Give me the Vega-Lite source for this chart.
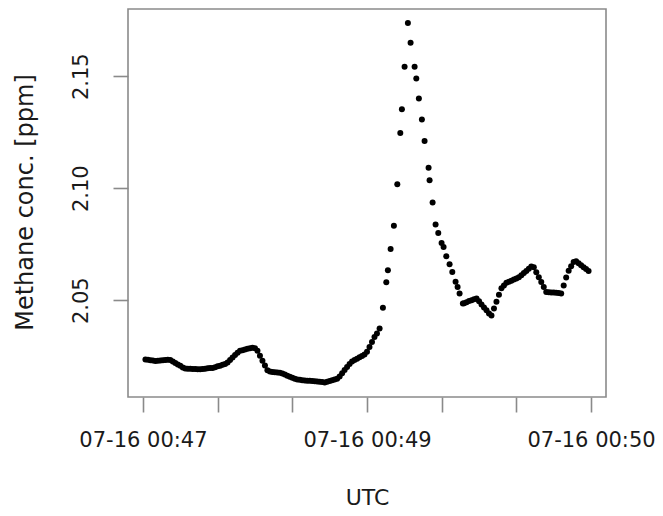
{
  "$schema": "https://vega.github.io/schema/vega-lite/v6.json",
  "autosize": "none",
  "width": 478,
  "height": 388,
  "padding": {"left": 128, "top": 9, "right": 57, "bottom": 119},
  "background": "white",
  "config": {
    "view": {"stroke": "#8a8a8a", "strokeWidth": 1.6},
    "font": "DejaVu Sans"
  },
  "data": {
    "values": [
      {"time": "2014-07-16T00:47:31Z", "ch4": 2.0235},
      {"time": "2014-07-16T00:47:32Z", "ch4": 2.0234},
      {"time": "2014-07-16T00:47:33Z", "ch4": 2.0232},
      {"time": "2014-07-16T00:47:34Z", "ch4": 2.0231},
      {"time": "2014-07-16T00:47:35Z", "ch4": 2.0229},
      {"time": "2014-07-16T00:47:36Z", "ch4": 2.0230},
      {"time": "2014-07-16T00:47:37Z", "ch4": 2.0231},
      {"time": "2014-07-16T00:47:38Z", "ch4": 2.0232},
      {"time": "2014-07-16T00:47:39Z", "ch4": 2.0233},
      {"time": "2014-07-16T00:47:40Z", "ch4": 2.0234},
      {"time": "2014-07-16T00:47:41Z", "ch4": 2.0233},
      {"time": "2014-07-16T00:47:42Z", "ch4": 2.0226},
      {"time": "2014-07-16T00:47:43Z", "ch4": 2.0220},
      {"time": "2014-07-16T00:47:44Z", "ch4": 2.0213},
      {"time": "2014-07-16T00:47:45Z", "ch4": 2.0207},
      {"time": "2014-07-16T00:47:46Z", "ch4": 2.0200},
      {"time": "2014-07-16T00:47:47Z", "ch4": 2.0195},
      {"time": "2014-07-16T00:47:48Z", "ch4": 2.0194},
      {"time": "2014-07-16T00:47:49Z", "ch4": 2.0194},
      {"time": "2014-07-16T00:47:50Z", "ch4": 2.0193},
      {"time": "2014-07-16T00:47:51Z", "ch4": 2.0193},
      {"time": "2014-07-16T00:47:52Z", "ch4": 2.0192},
      {"time": "2014-07-16T00:47:53Z", "ch4": 2.0192},
      {"time": "2014-07-16T00:47:54Z", "ch4": 2.0193},
      {"time": "2014-07-16T00:47:55Z", "ch4": 2.0194},
      {"time": "2014-07-16T00:47:56Z", "ch4": 2.0196},
      {"time": "2014-07-16T00:47:57Z", "ch4": 2.0197},
      {"time": "2014-07-16T00:47:58Z", "ch4": 2.0198},
      {"time": "2014-07-16T00:47:59Z", "ch4": 2.0201},
      {"time": "2014-07-16T00:48:00Z", "ch4": 2.0205},
      {"time": "2014-07-16T00:48:01Z", "ch4": 2.0208},
      {"time": "2014-07-16T00:48:02Z", "ch4": 2.0212},
      {"time": "2014-07-16T00:48:03Z", "ch4": 2.0215},
      {"time": "2014-07-16T00:48:04Z", "ch4": 2.0222},
      {"time": "2014-07-16T00:48:05Z", "ch4": 2.0233},
      {"time": "2014-07-16T00:48:06Z", "ch4": 2.0244},
      {"time": "2014-07-16T00:48:07Z", "ch4": 2.0255},
      {"time": "2014-07-16T00:48:08Z", "ch4": 2.0265},
      {"time": "2014-07-16T00:48:09Z", "ch4": 2.0275},
      {"time": "2014-07-16T00:48:10Z", "ch4": 2.0277},
      {"time": "2014-07-16T00:48:11Z", "ch4": 2.0280},
      {"time": "2014-07-16T00:48:12Z", "ch4": 2.0283},
      {"time": "2014-07-16T00:48:13Z", "ch4": 2.0286},
      {"time": "2014-07-16T00:48:14Z", "ch4": 2.0288},
      {"time": "2014-07-16T00:48:15Z", "ch4": 2.0286},
      {"time": "2014-07-16T00:48:16Z", "ch4": 2.0275},
      {"time": "2014-07-16T00:48:17Z", "ch4": 2.0252},
      {"time": "2014-07-16T00:48:18Z", "ch4": 2.0230},
      {"time": "2014-07-16T00:48:19Z", "ch4": 2.0209},
      {"time": "2014-07-16T00:48:20Z", "ch4": 2.0187},
      {"time": "2014-07-16T00:48:21Z", "ch4": 2.0182},
      {"time": "2014-07-16T00:48:22Z", "ch4": 2.0180},
      {"time": "2014-07-16T00:48:23Z", "ch4": 2.0179},
      {"time": "2014-07-16T00:48:24Z", "ch4": 2.0177},
      {"time": "2014-07-16T00:48:25Z", "ch4": 2.0176},
      {"time": "2014-07-16T00:48:26Z", "ch4": 2.0173},
      {"time": "2014-07-16T00:48:27Z", "ch4": 2.0168},
      {"time": "2014-07-16T00:48:28Z", "ch4": 2.0163},
      {"time": "2014-07-16T00:48:29Z", "ch4": 2.0158},
      {"time": "2014-07-16T00:48:30Z", "ch4": 2.0154},
      {"time": "2014-07-16T00:48:31Z", "ch4": 2.0149},
      {"time": "2014-07-16T00:48:32Z", "ch4": 2.0146},
      {"time": "2014-07-16T00:48:33Z", "ch4": 2.0145},
      {"time": "2014-07-16T00:48:34Z", "ch4": 2.0143},
      {"time": "2014-07-16T00:48:35Z", "ch4": 2.0142},
      {"time": "2014-07-16T00:48:36Z", "ch4": 2.0141},
      {"time": "2014-07-16T00:48:37Z", "ch4": 2.0140},
      {"time": "2014-07-16T00:48:38Z", "ch4": 2.0139},
      {"time": "2014-07-16T00:48:39Z", "ch4": 2.0138},
      {"time": "2014-07-16T00:48:40Z", "ch4": 2.0137},
      {"time": "2014-07-16T00:48:41Z", "ch4": 2.0136},
      {"time": "2014-07-16T00:48:42Z", "ch4": 2.0135},
      {"time": "2014-07-16T00:48:43Z", "ch4": 2.0133},
      {"time": "2014-07-16T00:48:44Z", "ch4": 2.0136},
      {"time": "2014-07-16T00:48:45Z", "ch4": 2.0139},
      {"time": "2014-07-16T00:48:46Z", "ch4": 2.0143},
      {"time": "2014-07-16T00:48:47Z", "ch4": 2.0146},
      {"time": "2014-07-16T00:48:48Z", "ch4": 2.0149},
      {"time": "2014-07-16T00:48:49Z", "ch4": 2.0160},
      {"time": "2014-07-16T00:48:50Z", "ch4": 2.0174},
      {"time": "2014-07-16T00:48:51Z", "ch4": 2.0188},
      {"time": "2014-07-16T00:48:52Z", "ch4": 2.0202},
      {"time": "2014-07-16T00:48:53Z", "ch4": 2.0215},
      {"time": "2014-07-16T00:48:54Z", "ch4": 2.0227},
      {"time": "2014-07-16T00:48:55Z", "ch4": 2.0233},
      {"time": "2014-07-16T00:48:56Z", "ch4": 2.0239},
      {"time": "2014-07-16T00:48:57Z", "ch4": 2.0245},
      {"time": "2014-07-16T00:48:58Z", "ch4": 2.0251},
      {"time": "2014-07-16T00:48:59Z", "ch4": 2.0258},
      {"time": "2014-07-16T00:49:00Z", "ch4": 2.0270},
      {"time": "2014-07-16T00:49:01Z", "ch4": 2.0291},
      {"time": "2014-07-16T00:49:02Z", "ch4": 2.0313},
      {"time": "2014-07-16T00:49:03Z", "ch4": 2.0336},
      {"time": "2014-07-16T00:49:04Z", "ch4": 2.0352},
      {"time": "2014-07-16T00:49:05.060Z", "ch4": 2.0374},
      {"time": "2014-07-16T00:49:06.390Z", "ch4": 2.0466},
      {"time": "2014-07-16T00:49:07.750Z", "ch4": 2.0580},
      {"time": "2014-07-16T00:49:08.390Z", "ch4": 2.0634},
      {"time": "2014-07-16T00:49:09.480Z", "ch4": 2.0729},
      {"time": "2014-07-16T00:49:10.800Z", "ch4": 2.0832},
      {"time": "2014-07-16T00:49:12.170Z", "ch4": 2.1018},
      {"time": "2014-07-16T00:49:13.370Z", "ch4": 2.1247},
      {"time": "2014-07-16T00:49:14.020Z", "ch4": 2.1353},
      {"time": "2014-07-16T00:49:15.100Z", "ch4": 2.1542},
      {"time": "2014-07-16T00:49:16.430Z", "ch4": 2.1738},
      {"time": "2014-07-16T00:49:17.510Z", "ch4": 2.1649},
      {"time": "2014-07-16T00:49:19.120Z", "ch4": 2.1542},
      {"time": "2014-07-16T00:49:19.800Z", "ch4": 2.1490},
      {"time": "2014-07-16T00:49:20.840Z", "ch4": 2.1400},
      {"time": "2014-07-16T00:49:22.050Z", "ch4": 2.1307},
      {"time": "2014-07-16T00:49:23.130Z", "ch4": 2.1211},
      {"time": "2014-07-16T00:49:24.740Z", "ch4": 2.1091},
      {"time": "2014-07-16T00:49:25.140Z", "ch4": 2.1036},
      {"time": "2014-07-16T00:49:26.350Z", "ch4": 2.0936},
      {"time": "2014-07-16T00:49:27.550Z", "ch4": 2.0838},
      {"time": "2014-07-16T00:49:28.630Z", "ch4": 2.0800},
      {"time": "2014-07-16T00:49:29.960Z", "ch4": 2.0756},
      {"time": "2014-07-16T00:49:30.760Z", "ch4": 2.0738},
      {"time": "2014-07-16T00:49:31.850Z", "ch4": 2.0696},
      {"time": "2014-07-16T00:49:33.170Z", "ch4": 2.0661},
      {"time": "2014-07-16T00:49:34.260Z", "ch4": 2.0626},
      {"time": "2014-07-16T00:49:35.580Z", "ch4": 2.0582},
      {"time": "2014-07-16T00:49:36.390Z", "ch4": 2.0559},
      {"time": "2014-07-16T00:49:37.190Z", "ch4": 2.0530},
      {"time": "2014-07-16T00:49:38.510Z", "ch4": 2.0485},
      {"time": "2014-07-16T00:49:39Z", "ch4": 2.0487},
      {"time": "2014-07-16T00:49:40Z", "ch4": 2.0491},
      {"time": "2014-07-16T00:49:41Z", "ch4": 2.0496},
      {"time": "2014-07-16T00:49:42Z", "ch4": 2.0500},
      {"time": "2014-07-16T00:49:43Z", "ch4": 2.0504},
      {"time": "2014-07-16T00:49:44Z", "ch4": 2.0508},
      {"time": "2014-07-16T00:49:45Z", "ch4": 2.0495},
      {"time": "2014-07-16T00:49:46Z", "ch4": 2.0481},
      {"time": "2014-07-16T00:49:47Z", "ch4": 2.0468},
      {"time": "2014-07-16T00:49:48Z", "ch4": 2.0455},
      {"time": "2014-07-16T00:49:49Z", "ch4": 2.0441},
      {"time": "2014-07-16T00:49:50Z", "ch4": 2.0432},
      {"time": "2014-07-16T00:49:51Z", "ch4": 2.0463},
      {"time": "2014-07-16T00:49:52Z", "ch4": 2.0493},
      {"time": "2014-07-16T00:49:53Z", "ch4": 2.0524},
      {"time": "2014-07-16T00:49:54Z", "ch4": 2.0554},
      {"time": "2014-07-16T00:49:55Z", "ch4": 2.0566},
      {"time": "2014-07-16T00:49:56Z", "ch4": 2.0578},
      {"time": "2014-07-16T00:49:57Z", "ch4": 2.0582},
      {"time": "2014-07-16T00:49:58Z", "ch4": 2.0587},
      {"time": "2014-07-16T00:49:59Z", "ch4": 2.0592},
      {"time": "2014-07-16T00:50:00Z", "ch4": 2.0597},
      {"time": "2014-07-16T00:50:01Z", "ch4": 2.0602},
      {"time": "2014-07-16T00:50:02Z", "ch4": 2.0611},
      {"time": "2014-07-16T00:50:03Z", "ch4": 2.0621},
      {"time": "2014-07-16T00:50:04Z", "ch4": 2.0630},
      {"time": "2014-07-16T00:50:05Z", "ch4": 2.0640},
      {"time": "2014-07-16T00:50:06Z", "ch4": 2.0650},
      {"time": "2014-07-16T00:50:07Z", "ch4": 2.0647},
      {"time": "2014-07-16T00:50:08Z", "ch4": 2.0625},
      {"time": "2014-07-16T00:50:09Z", "ch4": 2.0603},
      {"time": "2014-07-16T00:50:10Z", "ch4": 2.0581},
      {"time": "2014-07-16T00:50:11Z", "ch4": 2.0559},
      {"time": "2014-07-16T00:50:12Z", "ch4": 2.0537},
      {"time": "2014-07-16T00:50:13Z", "ch4": 2.0536},
      {"time": "2014-07-16T00:50:14Z", "ch4": 2.0535},
      {"time": "2014-07-16T00:50:15Z", "ch4": 2.0534},
      {"time": "2014-07-16T00:50:16Z", "ch4": 2.0533},
      {"time": "2014-07-16T00:50:17Z", "ch4": 2.0532},
      {"time": "2014-07-16T00:50:18Z", "ch4": 2.0530},
      {"time": "2014-07-16T00:50:19Z", "ch4": 2.0566},
      {"time": "2014-07-16T00:50:20Z", "ch4": 2.0601},
      {"time": "2014-07-16T00:50:21Z", "ch4": 2.0632},
      {"time": "2014-07-16T00:50:22Z", "ch4": 2.0652},
      {"time": "2014-07-16T00:50:23Z", "ch4": 2.0671},
      {"time": "2014-07-16T00:50:24Z", "ch4": 2.0674},
      {"time": "2014-07-16T00:50:25Z", "ch4": 2.0665},
      {"time": "2014-07-16T00:50:26Z", "ch4": 2.0656},
      {"time": "2014-07-16T00:50:27Z", "ch4": 2.0647},
      {"time": "2014-07-16T00:50:28Z", "ch4": 2.0639},
      {"time": "2014-07-16T00:50:29Z", "ch4": 2.0630}
    ]
  },
  "mark": {"type": "point", "filled": true, "color": "black", "opacity": 1, "size": 36, "strokeWidth": 0},
  "encoding": {
    "x": {
      "field": "time",
      "type": "temporal",
      "scale": {
        "type": "utc",
        "nice": false,
        "domain": [
          {"year": 2014, "month": 7, "date": 16, "hours": 0, "minutes": 47, "seconds": 24, "utc": true},
          {"year": 2014, "month": 7, "date": 16, "hours": 0, "minutes": 50, "seconds": 36, "utc": true}
        ]
      },
      "axis": {
        "title": "UTC",
        "values": [
          {"year": 2014, "month": 7, "date": 16, "hours": 0, "minutes": 47, "seconds": 30, "utc": true},
          {"year": 2014, "month": 7, "date": 16, "hours": 0, "minutes": 48, "seconds": 0, "utc": true},
          {"year": 2014, "month": 7, "date": 16, "hours": 0, "minutes": 48, "seconds": 30, "utc": true},
          {"year": 2014, "month": 7, "date": 16, "hours": 0, "minutes": 49, "seconds": 0, "utc": true},
          {"year": 2014, "month": 7, "date": 16, "hours": 0, "minutes": 49, "seconds": 30, "utc": true},
          {"year": 2014, "month": 7, "date": 16, "hours": 0, "minutes": 50, "seconds": 0, "utc": true},
          {"year": 2014, "month": 7, "date": 16, "hours": 0, "minutes": 50, "seconds": 30, "utc": true}
        ],
        "labelExpr": "((utcminutes(datum.value) == 47 && utcseconds(datum.value) == 30) || (utcminutes(datum.value) == 49 && utcseconds(datum.value) == 0) || (utcminutes(datum.value) == 50 && utcseconds(datum.value) == 30)) ? utcFormat(datum.value, '%m-%d %H:%M') : ''",
        "labelOverlap": false,
        "labelFlush": false,
        "labelBound": false,
        "domain": false,
        "grid": false,
        "ticks": true,
        "tickSize": 15,
        "tickColor": "#8a8a8a",
        "tickWidth": 1.6,
        "labelFont": "DejaVu Sans",
        "labelFontSize": 21,
        "labelColor": "#1a1a1a",
        "labelPadding": 17,
        "titleFont": "DejaVu Sans",
        "titleFontSize": 22,
        "titleFontWeight": "normal",
        "titleColor": "#1a1a1a",
        "titleBaseline": "middle",
        "titleY": 100
      }
    },
    "y": {
      "field": "ch4",
      "type": "quantitative",
      "scale": {"domain": [2.0068, 2.18], "nice": false, "zero": false},
      "axis": {
        "title": "Methane conc. [ppm]",
        "values": [2.05, 2.1, 2.15],
        "format": ".2f",
        "domain": false,
        "grid": false,
        "tickSize": 15,
        "tickColor": "#8a8a8a",
        "tickWidth": 1.6,
        "labelAngle": 270,
        "labelAlign": "center",
        "labelBaseline": "bottom",
        "labelFont": "DejaVu Sans",
        "labelFontSize": 21,
        "labelColor": "#1a1a1a",
        "labelPadding": 22,
        "titleFont": "DejaVu Sans",
        "titleFontSize": 24,
        "titleFontWeight": "normal",
        "titleColor": "#1a1a1a",
        "titleAngle": 270,
        "titleAlign": "center",
        "titleBaseline": "middle",
        "titleX": -103,
        "titleY": 193
      }
    }
  }
}
